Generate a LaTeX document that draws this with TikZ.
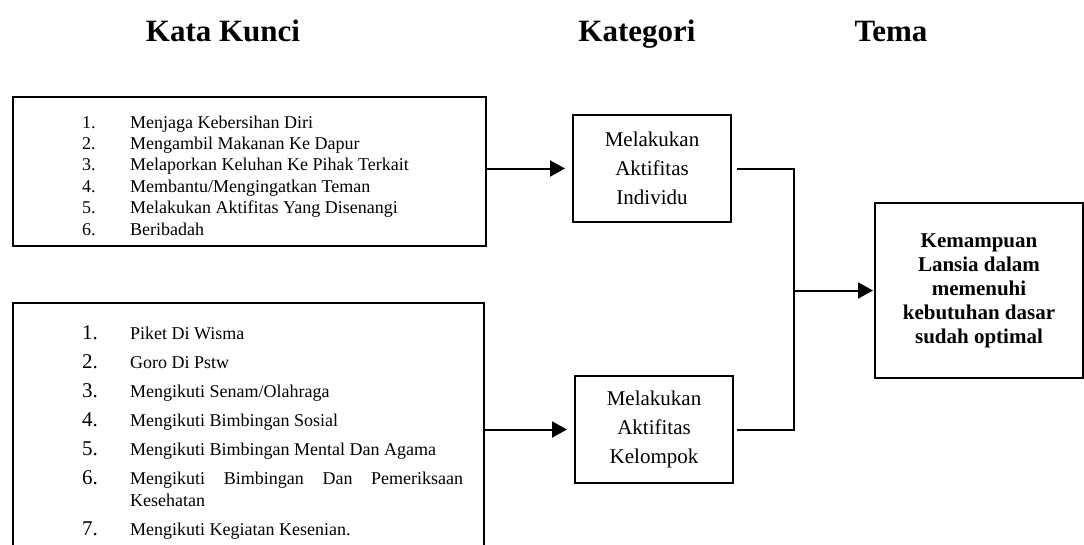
\documentclass[tikz,border=0pt]{standalone}
\usepackage{fontspec}
\setmainfont{Liberation Serif}
\usetikzlibrary{arrows.meta}
\newcommand{\kwline}[2]{\noindent\makebox[48pt][l]{#1}#2\par}
\newcommand{\kwnum}[2]{\noindent\hangindent=48pt\hangafter=1\makebox[48pt][l]{\fontsize{21}{22}\selectfont #1}#2\par}
\tikzset{
  box/.style={draw, line width=2pt, inner sep=0pt, outer sep=0pt},
  kwbox/.style={box, anchor=north west},
  kwlist/.style={anchor=base west, inner sep=0pt},
  katbox/.style={box, minimum width=158pt, minimum height=107pt, align=center, font={\fontsize{21}{29}\selectfont}},
  temabox/.style={box, minimum width=208pt, minimum height=175pt, align=center, font={\fontsize{21}{24}\selectfont\bfseries}},
  head/.style={anchor=base, inner sep=0pt, font={\fontsize{31}{36}\selectfont\bfseries}},
  flow/.style={-{Triangle[length=15pt, width=16pt]}, line width=2pt, shorten >=8pt},
  link/.style={line width=2pt},
}
\begin{document}
\begin{tikzpicture}[x=1pt, y=-1pt]
  \useasboundingbox (0,0) rectangle (1084,544);
  \clip (0,0) rectangle (1084,544);
  \node[head] (hkata) at (223,41) {Kata Kunci};
  \node[head] (hkat) at (637,41) {Kategori};
  \node[head] (htema) at (891,41) {Tema};
  \node[kwbox, minimum width=473pt, minimum height=149pt] (kw1) at (13,97) {};
  \node[kwlist] (kw1list) at (82,128) {\parbox[t]{390pt}{\fontsize{18}{21.4}\selectfont
    \kwline{1.}{Menjaga Kebersihan Diri}
    \kwline{2.}{Mengambil Makanan Ke Dapur}
    \kwline{3.}{Melaporkan Keluhan Ke Pihak Terkait}
    \kwline{4.}{Membantu/Mengingatkan Teman}
    \kwline{5.}{Melakukan Aktifitas Yang Disenangi}
    \kwline{6.}{Beribadah}}};
  \node[kwbox, minimum width=471pt, minimum height=257pt] (kw2) at (13,303) {};
  \node[kwlist] (kw2list) at (82,339) {\parbox[t]{381pt}{\fontsize{18}{22}\selectfont
    \setlength{\parskip}{7pt}\hyphenpenalty=10000 \tolerance=9999
    \kwnum{1.}{Piket Di Wisma}
    \kwnum{2.}{Goro Di Pstw}
    \kwnum{3.}{Mengikuti Senam/Olahraga}
    \kwnum{4.}{Mengikuti Bimbingan Sosial}
    \kwnum{5.}{Mengikuti Bimbingan Mental Dan Agama}
    \kwnum{6.}{Mengikuti Bimbingan Dan Pemeriksaan Kesehatan}
    \kwnum{7.}{Mengikuti Kegiatan Kesenian.}}};
  \node[katbox] (kat1) at (652,168.5) {Melakukan\\Aktifitas\\Individu};
  \node[katbox] (kat2) at (654,429.5) {Melakukan\\Aktifitas\\Kelompok};
  \node[temabox] (tema) at (979,290.5) {Kemampuan\\Lansia dalam\\memenuhi\\kebutuhan dasar\\sudah optimal};
  \coordinate (join) at (794,290.5);
  \draw[flow] (kw1.east |- kat1.west) -- (kat1.west);
  \draw[flow] (kw2.east |- kat2.west) -- (kat2.west);
  \draw[link] ([xshift=6pt]kat1.east) -| (join) |- ([xshift=4pt]kat2.east);
  \draw[flow, shorten >=2pt] (join) -- (tema.west);
\end{tikzpicture}
\end{document}
